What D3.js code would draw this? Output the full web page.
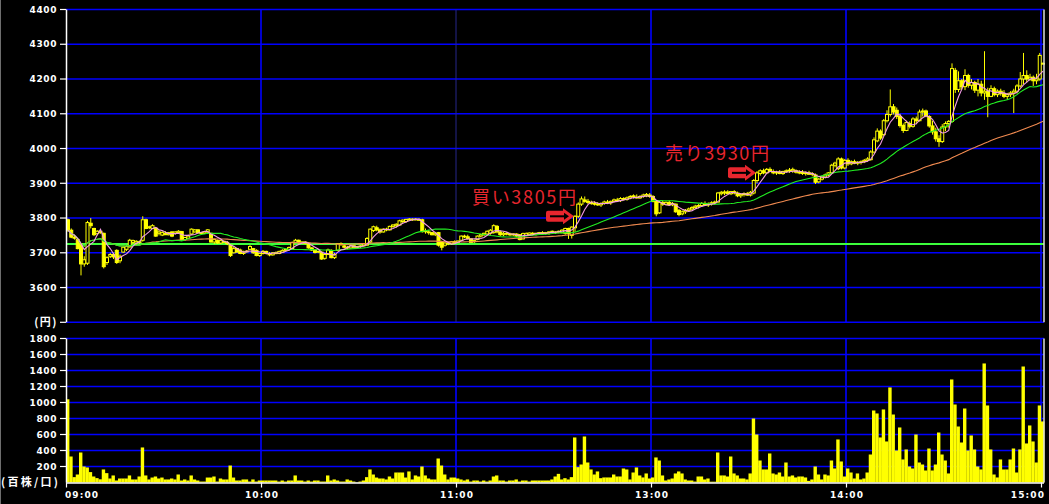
<!DOCTYPE html>
<html><head><meta charset="utf-8">
<script src="https://cdn.jsdelivr.net/npm/d3@7"></script>
<style>html,body{margin:0;padding:0;background:#000;overflow:hidden}svg{display:block}</style>
</head><body><svg id="c" width="1049" height="504"></svg>
<script>
// ---- data (1-minute bars, index 0 = 09:00, 150 = 11:30/12:30, 300 = 15:00 close) ----
const opens = [
3795,3765,3745,3738,3725,3668,3670,3785,3770,3755,
3762,3756,3672,3690,3695,3707,3677,3702,3710,3717,
3730,3728,3730,3736,3795,3772,3770,3771,3756,3751,
3756,3752,3760,3756,3758,3761,3738,3742,3754,3760,
3766,3758,3756,3760,3756,3731,3735,3728,3733,3730,
3722,3700,3712,3708,3698,3703,3710,3712,3707,3692,
3698,3704,3698,3694,3700,3698,3702,3707,3710,3712,
3730,3736,3729,3731,3725,3714,3708,3702,3702,3684,
3695,3707,3686,3707,3724,3720,3716,3714,3720,3716,
3718,3720,3722,3731,3764,3772,3766,3760,3768,3766,
3776,3778,3780,3790,3790,3794,3795,3797,3796,3795,
3763,3760,3758,3752,3758,3731,3722,3728,3726,3732,
3730,3736,3748,3746,3740,3732,3738,3748,3752,3754,
3756,3758,3776,3760,3752,3756,3754,3752,3754,3752,
3740,3750,3752,3756,3754,3756,3758,3756,3758,3760,
3758,3760,3758,3756,3770,3750,3772,3805,3840,3852,
3848,3845,3842,3840,3838,3842,3846,3844,3848,3852,
3850,3856,3854,3858,3862,3860,3858,3862,3864,3866,
3862,3850,3815,3845,3840,3845,3838,3840,3822,3812,
3818,3822,3826,3830,3834,3836,3842,3838,3840,3844,
3846,3870,3872,3875,3870,3876,3872,3864,3868,3870,
3866,3872,3908,3928,3936,3930,3940,3934,3930,3932,
3928,3934,3938,3936,3936,3932,3932,3928,3930,3926,
3924,3904,3912,3918,3924,3930,3952,3942,3970,3944,
3966,3956,3962,3958,3960,3962,3966,3968,3990,4022,
4050,4040,4080,4098,4120,4110,4092,4066,4052,4072,
4064,4085,4080,4105,4108,4092,4065,4048,4028,4020,
4062,4072,4078,4225,4170,4195,4178,4210,4182,4190,
4168,4185,4160,4165,4150,4172,4155,4165,4158,4150,
4155,4160,4165,4180,4200,4210,4200,4205,4195,4200,
4245];
const highs = [
3798,3770,3752,3742,3728,3690,3792,3800,3772,3765,
3768,3758,3690,3700,3700,3710,3695,3718,3722,3740,
3738,3736,3735,3805,3798,3778,3782,3773,3766,3762,
3762,3760,3762,3762,3765,3763,3746,3752,3770,3768,
3768,3760,3762,3768,3758,3740,3738,3738,3735,3734,
3724,3718,3714,3712,3706,3708,3722,3714,3710,3700,
3708,3706,3702,3702,3704,3706,3710,3712,3718,3732,
3740,3738,3733,3733,3726,3716,3710,3706,3704,3700,
3712,3710,3700,3728,3730,3722,3720,3722,3724,3720,
3722,3728,3745,3770,3778,3778,3770,3770,3772,3778,
3782,3785,3795,3796,3798,3800,3799,3800,3800,3798,
3770,3766,3760,3760,3760,3735,3732,3732,3734,3736,
3735,3750,3752,3752,3742,3738,3750,3755,3758,3764,
3768,3782,3780,3764,3760,3760,3758,3756,3756,3754,
3758,3758,3758,3760,3758,3760,3762,3760,3762,3764,
3762,3764,3768,3772,3772,3776,3808,3845,3862,3862,
3855,3850,3848,3846,3845,3850,3852,3850,3856,3858,
3860,3860,3862,3866,3868,3868,3866,3870,3872,3872,
3866,3852,3848,3850,3848,3850,3846,3842,3826,3822,
3826,3830,3834,3838,3840,3846,3848,3845,3848,3850,
3875,3878,3880,3880,3878,3880,3876,3872,3874,3875,
3878,3912,3935,3940,3942,3944,3946,3940,3936,3938,
3936,3940,3944,3945,3940,3938,3938,3934,3936,3932,
3928,3915,3922,3928,3932,3956,3962,3975,3974,3970,
3972,3966,3968,3964,3966,3970,3975,3995,4032,4058,
4055,4085,4110,4170,4128,4118,4100,4072,4080,4078,
4090,4092,4112,4115,4112,4096,4080,4060,4038,4070,
4078,4082,4245,4232,4222,4200,4228,4215,4200,4195,
4200,4195,4280,4175,4182,4178,4170,4172,4168,4160,
4165,4172,4185,4220,4275,4225,4215,4210,4215,4275,
4248];
const lows = [
3760,3742,3738,3710,3635,3660,3665,3770,3748,3750,
3755,3655,3665,3685,3682,3668,3670,3700,3705,3715,
3725,3722,3726,3732,3768,3768,3768,3746,3750,3748,
3751,3750,3745,3752,3755,3734,3734,3740,3752,3758,
3755,3752,3754,3755,3729,3725,3726,3725,3728,3722,
3688,3698,3700,3696,3694,3700,3708,3697,3690,3688,
3695,3695,3690,3692,3696,3696,3700,3703,3706,3710,
3728,3726,3725,3724,3712,3705,3698,3699,3680,3680,
3694,3684,3682,3705,3720,3712,3710,3712,3714,3712,
3714,3718,3720,3728,3760,3762,3755,3758,3762,3764,
3772,3772,3778,3784,3786,3792,3792,3793,3792,3758,
3755,3752,3750,3748,3718,3707,3718,3722,3724,3726,
3728,3734,3742,3738,3728,3728,3736,3744,3748,3750,
3752,3755,3756,3748,3748,3750,3748,3748,3745,3736,
3738,3748,3750,3750,3750,3752,3754,3752,3752,3756,
3754,3756,3756,3752,3740,3741,3760,3800,3835,3844,
3840,3838,3836,3835,3832,3838,3840,3838,3845,3846,
3846,3850,3850,3854,3856,3856,3855,3858,3860,3858,
3845,3805,3812,3835,3836,3836,3834,3815,3805,3808,
3812,3818,3820,3826,3828,3832,3836,3832,3836,3838,
3844,3865,3866,3868,3866,3868,3860,3858,3862,3864,
3862,3868,3900,3922,3926,3928,3932,3926,3924,3926,
3924,3930,3930,3930,3928,3926,3924,3922,3924,3920,
3898,3900,3908,3914,3920,3928,3946,3938,3940,3940,
3950,3952,3955,3952,3954,3958,3962,3965,3986,4018,
4025,4036,4075,4092,4098,4085,4060,4045,4050,4058,
4060,4070,4078,4092,4090,4060,4040,4020,4005,4016,
4050,4060,4074,4160,4162,4170,4168,4175,4170,4160,
4150,4150,4140,4090,4148,4150,4148,4152,4145,4140,
4148,4102,4158,4175,4185,4190,4195,4180,4185,4195,
4242];
const closes = [
3765,3745,3742,3712,3668,3680,3787,3778,3752,3762,
3758,3660,3686,3695,3688,3672,3690,3716,3718,3736,
3735,3733,3732,3795,3770,3775,3778,3748,3760,3758,
3752,3758,3748,3760,3762,3736,3744,3748,3768,3766,
3758,3756,3760,3766,3731,3738,3728,3735,3730,3726,
3692,3712,3702,3698,3703,3705,3718,3700,3692,3698,
3704,3698,3694,3700,3700,3704,3707,3710,3715,3730,
3736,3729,3731,3727,3714,3708,3701,3704,3682,3695,
3708,3686,3695,3726,3726,3716,3714,3720,3716,3718,
3720,3725,3741,3768,3775,3766,3760,3768,3766,3776,
3780,3782,3792,3794,3796,3797,3797,3796,3795,3761,
3762,3758,3752,3756,3722,3716,3728,3726,3732,3730,
3734,3748,3746,3741,3730,3735,3748,3752,3756,3762,
3765,3778,3760,3752,3756,3754,3752,3754,3748,3738,
3755,3756,3757,3754,3756,3758,3756,3758,3760,3762,
3760,3762,3765,3770,3756,3774,3805,3840,3855,3848,
3845,3842,3840,3838,3842,3846,3844,3848,3852,3850,
3856,3854,3858,3862,3864,3858,3862,3866,3868,3862,
3848,3812,3845,3840,3845,3838,3842,3818,3810,3818,
3822,3826,3830,3834,3836,3842,3838,3840,3844,3846,
3872,3874,3875,3870,3876,3872,3864,3868,3870,3866,
3874,3908,3930,3936,3930,3940,3934,3930,3932,3928,
3934,3936,3936,3940,3932,3930,3928,3930,3926,3928,
3903,3912,3918,3924,3930,3952,3958,3970,3944,3966,
3956,3962,3958,3960,3962,3966,3970,3990,4025,4050,
4030,4080,4098,4120,4105,4092,4066,4052,4075,4064,
4085,4080,4105,4108,4094,4065,4048,4028,4020,4062,
4072,4078,4230,4170,4195,4178,4210,4182,4190,4168,
4185,4160,4165,4150,4172,4155,4165,4158,4150,4155,
4160,4165,4180,4200,4210,4200,4205,4195,4200,4268,
4245];
const volumes = [
1040,325,67,100,375,200,188,130,75,55,
40,163,117,50,88,25,50,50,50,88,
38,38,75,438,88,38,62,75,50,62,
38,38,50,38,100,25,38,25,88,38,
25,12,12,62,62,75,12,50,38,38,
212,62,25,25,38,38,12,38,12,25,
25,25,25,25,25,12,25,12,25,25,
88,25,25,12,25,12,25,25,12,12,
88,25,38,25,12,12,38,25,12,3,
12,25,67,163,100,62,50,50,38,75,
50,125,125,125,62,138,38,88,75,200,
88,50,38,38,300,212,100,38,62,62,
50,38,25,38,12,25,25,12,25,12,
25,75,88,25,25,12,25,25,38,12,
25,25,12,25,25,25,25,25,25,38,
75,108,38,54,38,67,563,192,225,575,
250,163,100,138,54,63,63,63,100,75,
75,175,163,38,125,188,88,63,113,50,
63,313,275,88,25,38,50,113,138,113,
38,25,25,12,75,75,38,50,10,10,
375,88,88,75,325,113,88,50,50,38,
113,800,600,275,163,163,363,113,100,125,
75,250,75,88,63,75,75,63,20,38,
200,100,38,100,88,275,175,538,263,75,
175,125,50,113,38,50,125,350,900,863,
563,913,513,1188,850,400,688,288,413,200,
175,600,250,225,150,425,150,225,625,350,
275,113,1288,975,700,500,925,400,588,413,
200,163,1488,963,413,100,63,288,163,163,
288,425,125,413,1450,488,713,513,250,963,
763];
const priceTicks = [3600,3700,3800,3900,4000,4100,4200,4300,4400];
const volumeTicks = [200,400,600,800,1000,1200,1400,1600,1800];
const timeTickIndex = [0,60,120,180,240,300];
const timeTickLabels = ["09:00","10:00","11:00","13:00","14:00","15:00"];
const referencePrice = 3725;
const maPeriods = [5,25,75];
const tradeLabels = ["買い3805円","売り3930円"];
const tradeIndex = [156,212];
const tradePrice = [3805,3930];

// ---- layout / style ----
const W = 1049, H = 504;
const svg = d3.select("#c");
svg.append("rect").attr("width",W).attr("height",H).attr("fill","#000");
const x = d3.scaleLinear().domain([0,300]).range([66,1041]);
const yP = d3.scaleLinear().domain([3500,4400]).range([322.3,9.5]);
const yV = d3.scaleLinear().domain([0,1800]).range([482.5,338.5]);
const BLUE = "#0000ff", YEL = "#ffff00";
const axFont = "'DejaVu Sans', sans-serif";
const cjkFont = "'Noto Sans CJK JP', sans-serif";

// left gray edge
svg.append("line").attr("x1",0.5).attr("x2",0.5).attr("y1",0).attr("y2",H).attr("stroke","#6e6e6e").attr("stroke-width",1);

// ---- grids ----
const gP = svg.append("g");
gP.selectAll("line.h").data([3500].concat(priceTicks)).join("line")
  .attr("x1",66).attr("x2",1044).attr("y1",d=>yP(d)).attr("y2",d=>yP(d))
  .attr("stroke",BLUE).attr("stroke-width",1.5);
gP.selectAll("line.v").data(timeTickIndex.slice(1)).join("line")
  .attr("x1",d=>x(d)).attr("x2",d=>x(d)).attr("y1",yP(4400)).attr("y2",yP(3500))
  .attr("stroke",d=>d===120?"#26268a":BLUE).attr("stroke-width",d=>d===120?1:1.6);
const gV = svg.append("g");
gV.selectAll("line").data(volumeTicks).join("line")
  .attr("x1",66).attr("x2",1044).attr("y1",d=>yV(d)).attr("y2",d=>yV(d))
  .attr("stroke",BLUE).attr("stroke-width",1.5);
gV.selectAll("line.v").data(timeTickIndex.slice(1)).join("line")
  .attr("x1",d=>x(d)).attr("x2",d=>x(d)).attr("y1",yV(1800)).attr("y2",yV(0))
  .attr("stroke",BLUE).attr("stroke-width",1.6);

// ---- reference price line ----
svg.append("line").attr("x1",66).attr("x2",1044)
  .attr("y1",yP(referencePrice)).attr("y2",yP(referencePrice))
  .attr("stroke","#3cff3c").attr("stroke-width",2);

// ---- candles ----
const idx = d3.range(closes.length);
const bw = 4;
const gC = svg.append("g");
gC.selectAll("line").data(idx).join("line")
  .attr("x1",i=>x(i)+bw/2).attr("x2",i=>x(i)+bw/2)
  .attr("y1",i=>yP(highs[i])).attr("y2",i=>yP(lows[i]))
  .attr("stroke",YEL).attr("stroke-width",1);
gC.selectAll("rect").data(idx).join("rect")
  .attr("x",i=>x(i)+0.5).attr("width",bw-1)
  .attr("y",i=>yP(Math.max(opens[i],closes[i])))
  .attr("height",i=>Math.max(0.8,Math.abs(yP(opens[i])-yP(closes[i]))))
  .attr("fill",i=>closes[i]>=opens[i]?"#000":YEL)
  .attr("stroke",YEL).attr("stroke-width",1);

// ---- moving averages ----
function sma(arr,n){return arr.map((_,i)=>d3.mean(arr.slice(Math.max(0,i-n+1),i+1)));}
const maColors = ["#f49be6","#22ee22","#f08a50"];
const lineGen = d3.line().x((d,i)=>x(i)+bw/2).y(d=>yP(d));
maPeriods.slice().reverse().forEach((p,k)=>{
  const ci = maPeriods.length-1-k;
  svg.append("path").datum(sma(closes,p)).attr("d",lineGen)
    .attr("fill","none").attr("stroke",maColors[ci]).attr("stroke-width",1.1);
});

// ---- volume bars ----
svg.append("g").selectAll("rect").data(idx).join("rect")
  .attr("x",i=>x(i)).attr("width",3.4)
  .attr("y",i=>yV(volumes[i])).attr("height",i=>yV(0)-yV(volumes[i]))
  .attr("fill",YEL);

// ---- frames / axes ----
svg.append("line").attr("x1",66.5).attr("x2",66.5).attr("y1",yP(4400)).attr("y2",yP(3500)).attr("stroke","#fff").attr("stroke-width",1.5);
svg.append("line").attr("x1",66.5).attr("x2",66.5).attr("y1",yV(1800)).attr("y2",yV(0)).attr("stroke","#fff").attr("stroke-width",1.5);
svg.append("line").attr("x1",1044).attr("x2",1044).attr("y1",yP(4400)).attr("y2",yP(3500)).attr("stroke","#dcdcdc").attr("stroke-width",1.5);
svg.append("line").attr("x1",1044).attr("x2",1044).attr("y1",yV(1800)).attr("y2",yV(0)).attr("stroke","#dcdcdc").attr("stroke-width",1.5);
svg.append("line").attr("x1",66).attr("x2",1044).attr("y1",yV(0)+0.5).attr("y2",yV(0)+0.5).attr("stroke","#fff").attr("stroke-width",1.5);

const axG = svg.append("g").attr("fill","#fff").attr("font-family",axFont).attr("font-weight","bold").attr("font-size","9px");
// price axis
axG.selectAll("text.p").data(priceTicks).join("text")
  .attr("x",57).attr("y",d=>yP(d)).attr("dy","0.36em").attr("text-anchor","end")
  .attr("letter-spacing","0.6px").text(d=>d);
svg.append("g").selectAll("line").data(priceTicks.concat([3500])).join("line")
  .attr("x1",60).attr("x2",66).attr("y1",d=>yP(d)).attr("y2",d=>yP(d)).attr("stroke","#fff").attr("stroke-width",1.2);
svg.append("text").attr("x",58).attr("y",yP(3500)).attr("dy","0.36em").attr("text-anchor","end")
  .attr("fill","#fff").attr("font-family",cjkFont).attr("font-weight","bold")
  .attr("font-size","11px").attr("letter-spacing","1.5px").text("(円)");
// volume axis
axG.selectAll("text.v").data(volumeTicks).join("text")
  .attr("x",57).attr("y",d=>yV(d)).attr("dy","0.36em").attr("text-anchor","end")
  .attr("letter-spacing","0.6px").text(d=>d);
svg.append("g").selectAll("line").data(volumeTicks).join("line")
  .attr("x1",60).attr("x2",66).attr("y1",d=>yV(d)).attr("y2",d=>yV(d)).attr("stroke","#fff").attr("stroke-width",1.2);
svg.append("text").attr("x",1).attr("y",yV(0)).attr("dy","0.36em").attr("text-anchor","start")
  .attr("fill","#fff").attr("font-family",cjkFont).attr("font-weight","bold")
  .attr("font-size","11px").attr("textLength",57).attr("lengthAdjust","spacing").text("(百株/口)");
// time axis
svg.append("g").selectAll("line").data(timeTickIndex).join("line")
  .attr("x1",d=>x(d)+0.5).attr("x2",d=>x(d)+0.5).attr("y1",yV(0)).attr("y2",yV(0)+5)
  .attr("stroke","#fff").attr("stroke-width",1.2);
axG.selectAll("text.t").data(timeTickIndex).join("text")
  .attr("x",(d,i)=> i===0 ? x(d)-1 : (i===timeTickIndex.length-1 ? x(d)+4 : x(d)+1))
  .attr("y",497.5)
  .attr("text-anchor",(d,i)=> i===0?"start":(i===timeTickIndex.length-1?"end":"middle"))
  .attr("letter-spacing","1.1px")
  .text((d,i)=>timeTickLabels[i]);

// ---- trade annotations ----
const RED = "#e8262e";
const labelDx = [-102,-91], labelDy = [-12,-13];
tradeLabels.forEach((lab,k)=>{
  const tx = x(tradeIndex[k])+1, ty = yP(tradePrice[k]);
  const g = svg.append("g");
  g.append("rect").attr("x",tx-28).attr("y",ty-5.5).attr("width",19).attr("height",11).attr("rx",2).attr("fill",RED);
  g.append("path").attr("d",`M${tx-11},${ty-8}L${tx},${ty}L${tx-11},${ty+8}Z`).attr("fill",RED);
  g.append("line").attr("x1",tx-24).attr("x2",tx-9).attr("y1",ty).attr("y2",ty).attr("stroke","#000").attr("stroke-width",2);
  g.append("path").attr("d",`M${tx-10},${ty-3.5}L${tx-5},${ty}L${tx-10},${ty+3.5}Z`).attr("fill","#000");
  g.append("text").attr("x",tx+labelDx[k]).attr("y",ty+labelDy[k])
    .attr("fill",RED).attr("font-family",cjkFont)
    .attr("font-size","18px").attr("textLength",104).attr("lengthAdjust","spacing").text(lab);
});
</script></body></html>
